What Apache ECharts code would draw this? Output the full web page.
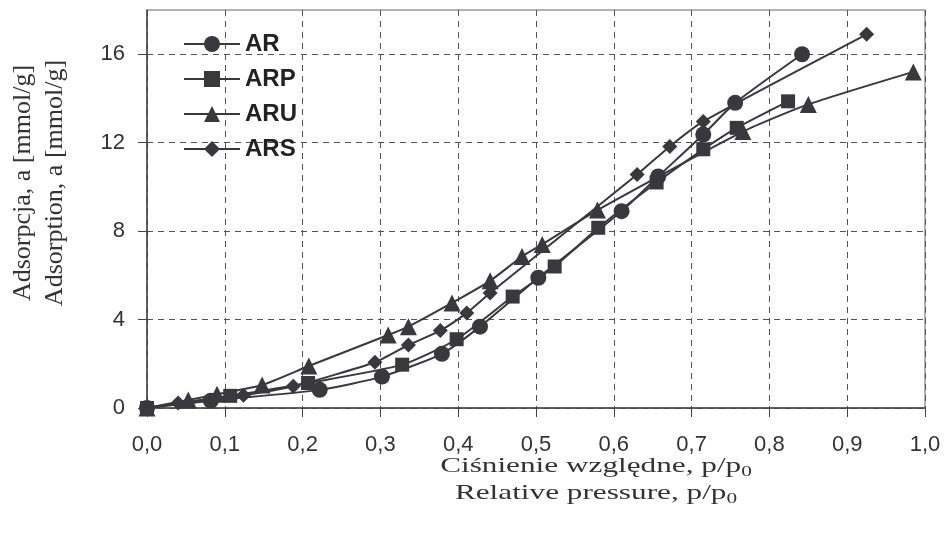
<!DOCTYPE html>
<html>
<head>
<meta charset="utf-8">
<script src="https://cdn.jsdelivr.net/npm/echarts@6/dist/echarts.min.js"></script>
<style>
  html, body { margin: 0; padding: 0; background: #fff; }
  #chart { width: 945px; height: 535px; }
</style>
</head>
<body>
<div id="chart"></div>
<script>
// values
const names = ['AR', 'ARP', 'ARU', 'ARS']
const symbols = ['circle', 'rect', 'triangle', 'diamond']
const symbolSizes = [16, 14, 17, 15]

const arX = [0, 0.082, 0.222, 0.302, 0.379, 0.428, 0.503, 0.61, 0.657, 0.715, 0.756, 0.842]
const arY = [0, 0.33, 0.82, 1.42, 2.45, 3.68, 5.89, 8.9, 10.47, 12.37, 13.8, 16.0]

const arpX = [0, 0.107, 0.207, 0.328, 0.398, 0.47, 0.524, 0.58, 0.655, 0.715, 0.758, 0.824]
const arpY = [0, 0.55, 1.13, 1.96, 3.11, 5.04, 6.4, 8.15, 10.2, 11.7, 12.67, 13.87]

const aruX = [0, 0.053, 0.09, 0.148, 0.208, 0.31, 0.336, 0.392, 0.441, 0.482, 0.508, 0.579, 0.766, 0.85, 0.985]
const aruY = [0, 0.36, 0.62, 1.04, 1.9, 3.3, 3.68, 4.75, 5.75, 6.85, 7.4, 8.95, 12.5, 13.73, 15.2]

const arsX = [0, 0.04, 0.124, 0.188, 0.293, 0.336, 0.377, 0.411, 0.441, 0.63, 0.672, 0.715, 0.925]
const arsY = [0, 0.23, 0.58, 0.98, 2.07, 2.85, 3.5, 4.3, 5.2, 10.56, 11.83, 12.96, 16.9]

const yTicks = [0, 4, 8, 12, 16]

const xs = [arX, arpX, aruX, arsX]
const ys = [arY, arpY, aruY, arsY]

const ink = '#38383d'

let series = names.map(function (name, i) {
    return {
        name: name,
        type: 'line',
        smooth: 0.2,
        symbol: symbols[i],
        symbolSize: symbolSizes[i],
        showAllSymbol: true,
        lineStyle: { color: ink, width: 2 },
        itemStyle: { color: ink, borderWidth: 0 },
        z: 3,
        data: xs[i].map(function (x, k) { return [x, ys[i][k]] })
    }
})

let gridDash = { color: '#555', type: [6, 5], width: 1 }

let option = {
    animation: false,
    grid: { left: 147, right: 20, top: 10, bottom: 127, show: true, borderColor: '#666', borderWidth: 1 },
    legend: {
        data: names,
        orient: 'vertical',
        left: 178,
        top: 27,
        itemWidth: 56,
        itemHeight: 20,
        itemGap: 11,
        textStyle: { fontFamily: 'Liberation Sans', fontWeight: 'bold', fontSize: 24, color: '#222' }
    },
    xAxis: {
        type: 'value',
        min: 0,
        max: 1,
        interval: 0.1,
        axisLine: { lineStyle: { color: '#444', width: 1.5 } },
        axisTick: { length: 9, lineStyle: { color: '#444' } },
        axisLabel: {
            margin: 26,
            fontFamily: 'Liberation Sans',
            fontSize: 22,
            color: '#333',
            formatter: function (v) { return v.toFixed(1).replace('.', ',') }
        },
        splitLine: { show: true, lineStyle: gridDash }
    },
    yAxis: {
        type: 'value',
        min: 0,
        max: 18,
        interval: 4,
        axisLine: { show: true, lineStyle: { color: '#444', width: 1.5 } },
        axisTick: { show: true, length: 9, lineStyle: { color: '#444' }, customValues: yTicks },
        axisLabel: {
            customValues: yTicks,
            margin: 22,
            fontFamily: 'Liberation Sans',
            fontSize: 22,
            color: '#333'
        },
        splitLine: { show: true, lineStyle: gridDash }
    },
    graphic: [
        {
            type: 'text',
            x: 596,
            y: 480,
            scaleX: 1.42,
            style: {
                text: 'Ciśnienie względne, p/p{s|0}\nRelative pressure, p/p{s|0}',
                fontFamily: 'Liberation Serif',
                fontSize: 22,
                lineHeight: 27,
                fill: '#333',
                align: 'center',
                verticalAlign: 'middle',
                rich: {
                    s: { fontFamily: 'Liberation Serif', fontSize: 15, verticalAlign: 'bottom', padding: [8, 0, 0, 0], fill: '#333' }
                }
            }
        },
        {
            type: 'text',
            x: 39,
            y: 183,
            rotation: Math.PI / 2,
            style: {
                text: 'Adsorpcja, a [mmol/g]\nAdsorption, a [mmol/g]',
                fontFamily: 'Liberation Serif',
                fontSize: 26,
                lineHeight: 32,
                fill: '#333',
                align: 'center',
                verticalAlign: 'middle'
            }
        }
    ],
    series: series
}

let myChart = echarts.init(document.getElementById('chart'))
myChart.setOption(option)
</script>
</body>
</html>
